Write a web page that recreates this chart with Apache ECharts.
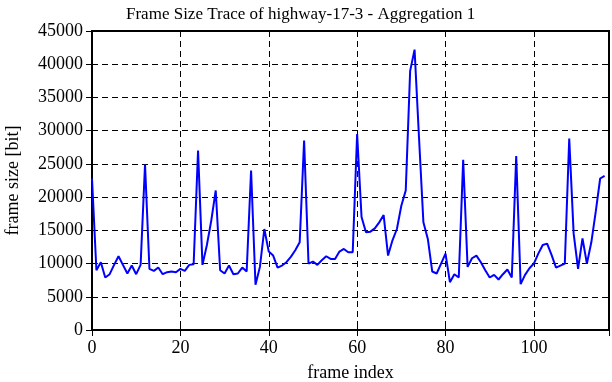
<!DOCTYPE html>
<html>
<head>
<meta charset="utf-8">
<script src="https://cdn.jsdelivr.net/npm/echarts@6/dist/echarts.min.js"></script>
<style>
  html, body { margin: 0; padding: 0; background: #fff; }
  #chart { width: 612px; height: 382px; }
</style>
</head>
<body>
<div id="chart"></div>
<script>
// frame size per frame index (bit)
const FRAME_SIZE = [
  22800, 9000, 10200, 7900, 8400, 9800, 11100, 9800, 8500, 9700,
  8400, 9800, 24900, 9200, 8900, 9400, 8400, 8700, 8800, 8700,
  9200, 8900, 9800, 9900, 27000, 9800, 12800, 16500, 21000, 9000,
  8500, 9700, 8400, 8500, 9400, 8800, 24000, 6800, 9500, 15200,
  11800, 11200, 9400, 9700, 10200, 11000, 12000, 13200, 28500, 10000,
  10300, 9800, 10500, 11100, 10700, 10700, 11800, 12200, 11700, 11700,
  29500, 17000, 14700, 14800, 15300, 16200, 17300, 11200, 13500, 15200,
  18700, 21000, 39000, 42200, 29000, 16200, 13700, 8800, 8500, 10000,
  11500, 7200, 8400, 7900, 25600, 9500, 10800, 11200, 10200, 9000,
  7900, 8300, 7600, 8400, 9100, 7900, 26200, 6900, 8300, 9300,
  10000, 11500, 12800, 13000, 11300, 9400, 9700, 10000, 28800, 14500,
  9200, 13800, 10000, 13200, 17800, 22800, 23200
];
const X_MAX = 117;
const X_STEP = 20;
const Y_MAX = 45000;
const Y_STEP = 5000;

const FONT = 'Liberation Serif';
const DASH = { color: '#000', width: 1, type: [6, 4] };

let points = FRAME_SIZE.map((v, i) => [i, v]);

function $extend(a, b) {
  return Object.assign(a, b);
}

function xAxisBase(pos) {
  return {
    type: 'value',
    position: pos,
    min: 0,
    max: X_MAX,
    interval: X_STEP,
    axisLine: { show: false },
    axisTick: { show: true, inside: true, length: 6, lineStyle: { color: '#000', width: 1 } },
    splitLine: { show: false },
    axisLabel: { show: false }
  };
}

function yAxisBase(pos) {
  return {
    type: 'value',
    position: pos,
    min: 0,
    max: Y_MAX,
    interval: Y_STEP,
    axisLine: { show: false },
    axisTick: { show: true, inside: true, length: 6, lineStyle: { color: '#000', width: 1 } },
    splitLine: { show: false },
    axisLabel: { show: false }
  };
}

let bottomX = $extend(xAxisBase('bottom'), {
  name: 'frame index',
  nameLocation: 'middle',
  nameGap: 34,
  nameTextStyle: { fontFamily: FONT, fontSize: 18, color: '#000' },
  splitLine: { show: true, lineStyle: DASH },
  axisLabel: {
    show: true,
    margin: 9,
    fontFamily: FONT,
    fontSize: 18,
    color: '#000',
    formatter: v => (v % X_STEP === 0 ? String(v) : '')
  }
});

let leftY = $extend(yAxisBase('left'), {
  name: 'frame size [bit]',
  nameLocation: 'middle',
  nameGap: 70,
  nameTextStyle: { fontFamily: FONT, fontSize: 18, color: '#000' },
  splitLine: { show: true, lineStyle: DASH },
  axisLabel: {
    show: true,
    margin: 9,
    fontFamily: FONT,
    fontSize: 18,
    color: '#000',
    formatter: v => String(v)
  }
});

let chart = echarts.init(document.getElementById('chart'), null, { renderer: 'canvas' });
chart.setOption({
  animation: false,
  backgroundColor: '#fff',
  title: {
    text: 'Frame Size Trace of highway-17-3 - Aggregation 1',
    left: 121,
    top: 1,
    textStyle: { fontFamily: FONT, fontSize: 17, fontWeight: 'normal', color: '#000' }
  },
  grid: {
    left: 92,
    right: 3,
    top: 31,
    bottom: 52,
    outerBoundsMode: 'none',
    show: true,
    borderColor: '#000',
    borderWidth: 2,
    backgroundColor: 'transparent'
  },
  xAxis: [bottomX, xAxisBase('top')],
  yAxis: [leftY, yAxisBase('right')],
  series: [{
    type: 'line',
    data: points,
    showSymbol: false,
    symbol: 'none',
    lineStyle: { color: '#0000ff', width: 2 },
    z: 5
  }]
});
</script>
</body>
</html>
